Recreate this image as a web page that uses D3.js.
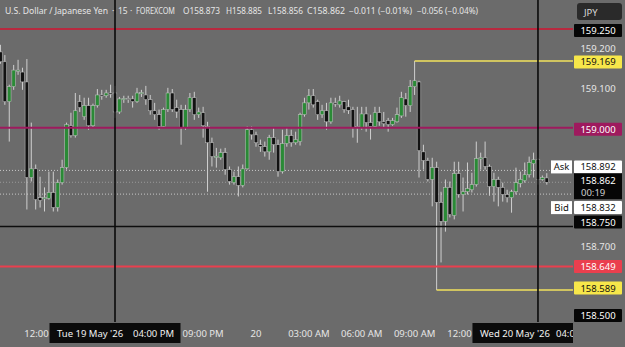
<!DOCTYPE html>
<html><head><meta charset="utf-8">
<script src="https://cdn.jsdelivr.net/npm/d3@7"></script>
<style>html,body{margin:0;padding:0;background:#6b6b6b;overflow:hidden}svg{display:block}</style>
</head><body><svg id="c" width="625" height="347"></svg>
<script>
// ---- data (USD/JPY, 15-minute candles, FOREXCOM) ----
const startTime = new Date(2026, 4, 19, 9, 30); // first candle
const intervalMinutes = 15;
const opens = [159.192,159.167,159.066,159.104,159.144,159.141,159.116,158.874,158.896,158.823,
158.821,158.821,158.836,158.798,158.861,158.899,159.005,158.980,159.066,159.028,
159.056,159.005,159.056,159.083,159.081,159.088,159.088,159.040,159.073,159.074,
159.073,159.066,159.088,159.083,159.071,159.043,159.033,159.003,159.046,159.088,
159.051,159.046,159.000,159.046,159.076,159.033,159.038,159.003,158.962,158.927,
158.924,158.937,158.894,158.861,158.876,158.854,158.896,158.995,158.982,158.957,
158.952,158.939,158.975,158.957,158.889,158.960,158.980,158.962,158.965,159.033,
159.063,159.081,159.066,159.033,159.043,159.015,159.063,159.058,159.066,159.053,
159.046,159.003,159.000,159.035,159.013,159.003,159.038,159.015,159.018,159.008,
159.015,159.030,159.073,159.056,159.104,159.116,158.939,158.917,158.869,158.899,
158.811,158.763,158.849,158.778,158.884,158.831,158.838,158.843,158.856,158.922,
158.924,158.902,158.851,158.869,158.849,158.831,158.823,158.838,158.859,158.866,
158.881,158.909,158.919,158.869,158.873];
const highs = [159.210,159.184,159.109,159.159,159.172,159.152,159.174,159.013,158.907,158.876,
158.849,158.889,158.889,158.869,158.919,159.013,159.038,159.088,159.083,159.076,
159.076,159.061,159.098,159.096,159.096,159.109,159.106,159.078,159.081,159.081,
159.081,159.101,159.096,159.106,159.083,159.063,159.046,159.051,159.101,159.098,
159.071,159.058,159.058,159.088,159.091,159.051,159.053,159.015,158.975,158.949,
158.947,158.949,158.902,158.889,158.902,158.907,159.003,159.003,158.990,158.970,
158.965,158.982,159.000,158.970,158.995,159.000,158.995,158.990,159.038,159.076,
159.098,159.098,159.071,159.058,159.063,159.076,159.076,159.081,159.068,159.071,
159.053,159.053,159.053,159.053,159.033,159.053,159.053,159.040,159.025,159.025,
159.051,159.091,159.088,159.121,159.169,159.119,158.957,158.924,158.924,158.914,
158.838,158.869,158.864,158.914,158.914,158.874,158.912,158.886,158.965,158.937,
158.965,158.907,158.886,158.876,158.861,158.843,158.843,158.899,158.889,158.912,
158.927,158.937,158.924,158.879,158.885];
const lows = [159.162,159.058,158.965,159.096,159.134,159.096,158.793,158.864,158.793,158.798,
158.788,158.818,158.788,158.788,158.856,158.894,158.975,158.975,159.040,159.020,
158.995,159.000,159.051,159.071,159.076,159.076,159.025,159.035,159.063,159.063,
159.051,159.063,159.078,159.058,159.033,159.020,158.995,159.000,159.040,159.040,
159.025,158.957,158.995,159.040,159.020,159.025,158.975,158.838,158.902,158.899,
158.919,158.881,158.856,158.856,158.826,158.849,158.894,158.970,158.952,158.939,
158.927,158.919,158.937,158.876,158.884,158.952,158.952,158.957,158.955,159.028,
159.046,159.051,159.020,159.025,158.995,159.010,159.053,159.051,159.038,159.035,
158.975,158.962,158.995,158.990,158.970,159.000,159.005,159.000,158.990,159.005,
159.013,159.025,159.028,159.040,159.083,158.874,158.894,158.864,158.801,158.589,
158.659,158.737,158.773,158.768,158.823,158.788,158.831,158.836,158.851,158.894,
158.894,158.828,158.813,158.801,158.813,158.811,158.785,158.831,158.849,158.861,
158.874,158.874,158.856,158.866,158.856];
const closes = [159.167,159.066,159.104,159.146,159.146,159.116,158.874,158.896,158.818,158.816,
158.823,158.836,158.798,158.861,158.899,159.008,158.980,159.043,159.051,159.056,
159.005,159.056,159.083,159.081,159.088,159.086,159.040,159.073,159.074,159.073,
159.066,159.088,159.089,159.071,159.043,159.033,159.003,159.046,159.088,159.046,
159.040,159.000,159.046,159.076,159.033,159.040,159.005,158.962,158.927,158.928,
158.937,158.894,158.864,158.876,158.854,158.896,158.995,158.982,158.962,158.952,
158.939,158.975,158.957,158.889,158.960,158.980,158.962,158.970,159.033,159.063,
159.081,159.058,159.033,159.043,159.015,159.063,159.062,159.068,159.046,159.044,
159.000,159.000,159.035,159.013,159.003,159.038,159.015,159.010,159.008,159.018,
159.033,159.076,159.056,159.104,159.119,158.942,158.917,158.869,158.899,158.811,
158.763,158.849,158.780,158.884,158.831,158.838,158.846,158.856,158.922,158.924,
158.902,158.851,158.869,158.849,158.831,158.823,158.838,158.861,158.869,158.881,
158.912,158.919,158.869,158.874,158.862];

// horizontal drawn levels
const levelValues = [159.250, 159.000, 158.750, 158.649];
const levelColors = ["#b8293f", "#9e1a5e", "#0d0d0d", "#ea3f4e"];
// high / low rays
const rayValues = [159.169, 158.589];
const rayStartIdx = [94, 99];
const askPrice = 158.892, lastPrice = 158.862, bidPrice = 158.832;
const priceTicks = [159.2, 159.1, 158.7];
const timeTickDates = [new Date(2026,4,19,12,0), new Date(2026,4,19,21,0), new Date(2026,4,20,0,0),
  new Date(2026,4,20,3,0), new Date(2026,4,20,6,0), new Date(2026,4,20,9,0), new Date(2026,4,20,12,0)];
const timeTickLabels = ["12:00", "09:00 PM", "20", "03:00 AM", "06:00 AM", "09:00 AM", "12:00"];
const sessionDates = [new Date(2026,4,19,16,0), new Date(2026,4,20,16,0)];
const sessionLabels = [["Tue 19 May '26", "04:00 PM"], ["Wed 20 May '26", "04:00 PM"]];
const headerParts = ["U.S. Dollar / Japanese Yen", "·", "15", "·", "FOREXCOM", "O158.873", "H158.885", "L158.856", "C158.862", "\u22120.011 (\u22120.01%)", "\u22120.056 (\u22120.04%)"];

// ---- drawing ----
const W = 625, H = 347, plotR = 573, plotB = 322;
const times = opens.map((_, i) => new Date(startTime.getTime() + i * intervalMinutes * 60000));
const candles = opens.map((o, i) => ({t: times[i], o, h: highs[i], l: lows[i], c: closes[i]}));

const x = d3.scaleTime().domain([times[0], times[times.length - 1]]).range([0.44, 0.44 + 4.406 * (times.length - 1)]);
const y = d3.scaleLinear().domain([158.75, 159.25]).range([226.5, 29]);

const svg = d3.select("#c");
const FONT = "'Noto Sans', sans-serif";
svg.append("rect").attr("width", W).attr("height", H).attr("fill", "#6b6b6b");
const defs = svg.append("defs");
defs.append("clipPath").attr("id", "plot").append("rect").attr("x", 0).attr("y", 0).attr("width", plotR).attr("height", plotB);
defs.append("clipPath").attr("id", "taxis").append("rect").attr("x", 0).attr("y", plotB).attr("width", plotR).attr("height", H - plotB);

const plot = svg.append("g").attr("clip-path", "url(#plot)");

// dotted ask / last / bid lines
[[askPrice, "#c8c8c8"], [lastPrice, "#9a9a9a"], [bidPrice, "#c8c8c8"]].forEach(([v, col]) => {
  plot.append("line").attr("x1", 0).attr("x2", plotR).attr("y1", y(v)).attr("y2", y(v))
    .attr("stroke", col).attr("stroke-width", 1).attr("stroke-dasharray", "1,2");
});

// candles
const cg = plot.append("g");
cg.selectAll("line.w").data(candles).join("line")
  .attr("x1", d => x(d.t)).attr("x2", d => x(d.t))
  .attr("y1", d => y(d.h)).attr("y2", d => y(d.l))
  .attr("stroke", "#cfcfcf").attr("stroke-width", 1);
cg.selectAll("rect.b").data(candles).join("rect")
  .attr("x", d => x(d.t) - 1.8).attr("width", 3.6)
  .attr("y", d => y(Math.max(d.o, d.c)))
  .attr("height", d => Math.max(1.2, Math.abs(y(d.o) - y(d.c))))
  .attr("fill", d => d.c >= d.o ? "#2a8a36" : "#121212")
  .attr("stroke", "#bdbdbd").attr("stroke-width", 0.55);

// level lines
levelValues.forEach((v, i) => {
  plot.append("line").attr("x1", 0).attr("x2", plotR).attr("y1", y(v)).attr("y2", y(v))
    .attr("stroke", levelColors[i]).attr("stroke-width", i === 2 ? 1.6 : 2);
});
rayValues.forEach((v, i) => {
  plot.append("line").attr("x1", x(times[rayStartIdx[i]])).attr("x2", plotR).attr("y1", y(v)).attr("y2", y(v))
    .attr("stroke", "#f2e25c").attr("stroke-width", 1.5);
});
// session vertical lines
sessionDates.forEach(d => {
  svg.append("line").attr("x1", x(d)).attr("x2", x(d)).attr("y1", 0).attr("y2", plotB)
    .attr("stroke", "#0a0a0a").attr("stroke-width", 1.6);
});

// header
const hx = [5, 112, 118, 130, 136, 183, 226, 268, 307, 349, 417];
const hw = [103, 0, 0, 0, 39, 37, 36, 35, 38, 63, 61];
const hg = svg.append("g").attr("font-family", FONT).attr("font-size", 8.4).attr("fill", "#e6e6e6");
headerParts.forEach((s, i) => {
  const t = hg.append("text").attr("x", hx[i]).attr("y", 14).text(s);
  if (hw[i] > 0) t.attr("textLength", hw[i]).attr("lengthAdjust", "spacingAndGlyphs");
});

// JPY box
svg.append("rect").attr("x", 577).attr("y", 3).attr("width", 45).attr("height", 17).attr("rx", 3).attr("fill", "#2a2a2a");
svg.append("text").attr("x", 584).attr("y", 15.5).attr("font-family", FONT).attr("font-size", 9.5).attr("fill", "#d8d8d8").text("JPY");

// time axis
const ta = svg.append("g").attr("clip-path", "url(#taxis)").attr("font-family", FONT).attr("font-size", 9.5).attr("fill", "#e6e6e6");
timeTickDates.forEach((d, i) => {
  ta.append("text").attr("x", x(d) + (timeTickLabels[i] === "12:00" ? -8 : 0)).attr("y", 336.5)
    .attr("text-anchor", "middle").text(timeTickLabels[i]);
});
sessionDates.forEach((d, i) => {
  const cx = x(d);
  ta.append("rect").attr("x", cx - 65.5).attr("y", 323).attr("width", 131).attr("height", 20).attr("fill", "#0b0b0b");
  ta.append("text").attr("x", cx - 58).attr("y", 336.5).attr("fill", "#f2f2f2").text(sessionLabels[i][0]);
  ta.append("text").attr("x", cx + 18).attr("y", 336.5).attr("fill", "#f2f2f2").text(sessionLabels[i][1]);
});

// price axis
const pa = svg.append("g").attr("font-family", FONT).attr("font-size", 9.5);
priceTicks.forEach(v => {
  pa.append("text").attr("x", 598).attr("y", y(v) + 3.5).attr("text-anchor", "middle").attr("fill", "#e6e6e6").text(v.toFixed(3));
});
function badge(yc, fill, color, text, h) {
  h = h || 13;
  pa.append("rect").attr("x", 574).attr("y", yc - h / 2).attr("width", 48).attr("height", h).attr("fill", fill).attr("rx", 1);
  pa.append("text").attr("x", 598).attr("y", yc + 3.5).attr("text-anchor", "middle").attr("fill", color).text(text);
}
badge(y(levelValues[0]) + 1.5, "#060606", "#ffffff", levelValues[0].toFixed(3));
badge(y(rayValues[0]) + 1, "#f7e74a", "#111111", rayValues[0].toFixed(3));
badge(y(levelValues[1]) + 1.5, "#9e1a5e", "#ffffff", levelValues[1].toFixed(3));
// ask
badge(y(askPrice) - 3.5, "#ffffff", "#111111", askPrice.toFixed(3));
pa.append("rect").attr("x", 551).attr("y", y(askPrice) - 10).attr("width", 21).attr("height", 13).attr("fill", "#ffffff");
pa.append("text").attr("x", 561.5).attr("y", y(askPrice) + 0).attr("text-anchor", "middle").attr("fill", "#111").text("Ask");
// last price + countdown
pa.append("rect").attr("x", 574).attr("y", y(lastPrice) - 9).attr("width", 48).attr("height", 26).attr("fill", "#060606");
pa.append("text").attr("x", 598).attr("y", y(lastPrice) + 2).attr("text-anchor", "middle").attr("fill", "#ffffff").text(lastPrice.toFixed(3));
pa.append("text").attr("x", 581).attr("y", y(lastPrice) + 14).attr("fill", "#cfcfcf").text("00:19");
// bid
badge(y(bidPrice) + 13.5, "#ffffff", "#111111", bidPrice.toFixed(3));
pa.append("rect").attr("x", 551).attr("y", y(bidPrice) + 7).attr("width", 21).attr("height", 13).attr("fill", "#ffffff");
pa.append("text").attr("x", 561.5).attr("y", y(bidPrice) + 17).attr("text-anchor", "middle").attr("fill", "#111").text("Bid");
badge(y(levelValues[2]) - 4.5, "#060606", "#ffffff", levelValues[2].toFixed(3));
badge(y(levelValues[3]), "#ea3f4e", "#ffffff", levelValues[3].toFixed(3));
badge(y(rayValues[1]) - 2, "#f7e74a", "#111111", rayValues[1].toFixed(3));
badge(Math.min(y(158.5), 315.5), "#060606", "#ffffff", (158.5).toFixed(3));
</script></body></html>
